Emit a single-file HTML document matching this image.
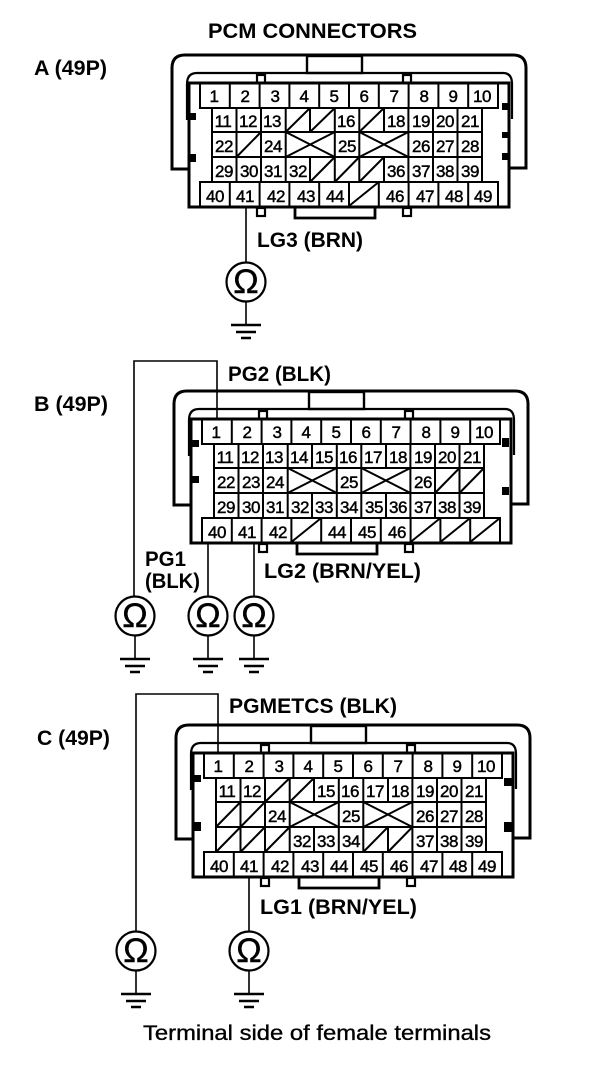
<!DOCTYPE html>
<html><head><meta charset="utf-8"><title>PCM Connectors</title>
<style>
html,body{margin:0;padding:0;background:#fff}
svg{display:block}
text{font-family:"Liberation Sans",sans-serif;fill:#000}
.n text{font-size:17px;letter-spacing:-.5px;text-anchor:middle;stroke:#000;stroke-width:.45}
.l{font-weight:bold;font-size:21px}
.o{font-size:34px;text-anchor:middle;stroke:#000;stroke-width:.4}
.s{fill:none;stroke:#000;stroke-width:2}
.w{fill:none;stroke:#000;stroke-width:1.6}
</style></head><body>
<svg width="608" height="1072" viewBox="0 0 608 1072" xmlns="http://www.w3.org/2000/svg">
<defs>
<g id="shell" fill="none" stroke="#000">
<path stroke-width="3" d="M189 169H172V68Q172 55 185 55H513Q526 55 526 68V168H509"/>
<rect x="307" y="56" width="55" height="17" stroke-width="2.4"/>
<path stroke-width="2.2" d="M187 120V84Q187 73 197 73H503Q512 73 512 84V119"/>
<rect x="257" y="75" width="8" height="8" stroke-width="2.2" fill="#fff"/>
<rect x="403" y="75" width="8" height="8" stroke-width="2.2" fill="#fff"/>
<rect x="257" y="208" width="8" height="8" stroke-width="2.2" fill="#fff"/>
<rect x="403" y="208" width="8" height="8" stroke-width="2.2" fill="#fff"/>
<path stroke-width="2.8" d="M295 207V218H375V207"/>
<rect x="189" y="83" width="320" height="124" stroke-width="3" fill="#fff"/>
<path stroke-width="2" d="M200 84V108H498V84M229.8 84V108M259.6 84V108M289.4 84V108M319.2 84V108M349 84V108M378.8 84V108M408.6 84V108M438.4 84V108M468.2 84V108"/>
<path stroke-width="2" d="M200 206V182H498V206M229.8 182V206M259.6 182V206M289.4 182V206M319.2 182V206M349 182V206M378.8 182V206M408.6 182V206M438.4 182V206M468.2 182V206"/>
<path stroke-width="2" d="M212 132H482M212 157H482M212 108V182M482 108V182M236.5 108V182M261 108V182M285.7 108V182M334.8 108V182M359.3 108V182M408.4 108V182M433 108V182M457.5 108V182M310 108V132M310 157V182M384 108V132M384 157V182"/>
<path stroke-width="2" d="M285.7 132L334.8 157M285.7 157L334.8 132M359.3 132L408.4 157M359.3 157L408.4 132"/>
</g>
<g id="gnd" fill="none" stroke="#000">
<circle cx="0" cy="0" r="19.5" stroke-width="2.2"/>
<path stroke-width="1.6" d="M0 20V43"/>
<path stroke-width="2.4" d="M-15 43H15M-10 50H10M-5 56H5"/>
</g>
</defs>
<rect width="608" height="1072" fill="#fff"/>

<text class="l" x="208" y="38" textLength="209" lengthAdjust="spacingAndGlyphs">PCM CONNECTORS</text>
<text class="l" x="34" y="75" textLength="73" lengthAdjust="spacingAndGlyphs">A (49P)</text>
<text class="l" x="34" y="411" textLength="74" lengthAdjust="spacingAndGlyphs">B (49P)</text>
<text class="l" x="37" y="745" textLength="73" lengthAdjust="spacingAndGlyphs">C (49P)</text>

<!-- Connector A -->
<g>
<use href="#shell"/>
<path d="M190 113h6v7h-6zM190 154h6v8h-6zM502 103h6v7h-6zM502 132h6v6h-6zM502 153h6v7h-6z"/>
<path class="s" d="M285.7 132L310 108M310 132L334.8 108M359.3 132L384 108M236.5 157L261 132M310 182L334.8 157M334.8 182L359.3 157M359.3 182L384 157M349 206L378.8 182"/>
<g class="n">
<text x="214" y="102">1</text><text x="245" y="102">2</text><text x="275" y="102">3</text><text x="304" y="102">4</text><text x="334" y="102">5</text><text x="364" y="102">6</text><text x="394" y="102">7</text><text x="424" y="102">8</text><text x="453" y="102">9</text><text x="482" y="102">10</text>
<text x="223" y="127">11</text><text x="248" y="127">12</text><text x="272" y="127">13</text><text x="346" y="127">16</text><text x="396" y="127">18</text><text x="421" y="127">19</text><text x="445" y="127">20</text><text x="470" y="127">21</text>
<text x="224" y="152">22</text><text x="273" y="152">24</text><text x="347" y="152">25</text><text x="421" y="152">26</text><text x="445" y="152">27</text><text x="470" y="152">28</text>
<text x="224" y="177">29</text><text x="249" y="177">30</text><text x="273" y="177">31</text><text x="298" y="177">32</text><text x="396" y="177">36</text><text x="421" y="177">37</text><text x="445" y="177">38</text><text x="470" y="177">39</text>
<text x="215" y="202">40</text><text x="245" y="202">41</text><text x="276" y="202">42</text><text x="306" y="202">43</text><text x="335" y="202">44</text><text x="395" y="202">46</text><text x="425" y="202">47</text><text x="454" y="202">48</text><text x="483" y="202">49</text>
</g>
</g>
<path class="w" d="M246 207V263"/>
<use href="#gnd" x="246" y="282"/>
<text class="o" x="246" y="293">Ω</text>
<text class="l" x="257" y="247" textLength="106" lengthAdjust="spacingAndGlyphs">LG3 (BRN)</text>

<!-- Connector B -->
<g transform="translate(2 336)">
<use href="#shell"/>
<path class="s" d="M433 157L457.5 132M457.5 157L482 132M289.4 206L319.2 182M408.6 206L438.4 182M438.4 206L468.2 182M468.2 206L498 182"/>
<g class="n">
<text x="214" y="102">1</text><text x="245" y="102">2</text><text x="275" y="102">3</text><text x="304" y="102">4</text><text x="334" y="102">5</text><text x="364" y="102">6</text><text x="394" y="102">7</text><text x="424" y="102">8</text><text x="453" y="102">9</text><text x="482" y="102">10</text>
<text x="223" y="127">11</text><text x="248" y="127">12</text><text x="272" y="127">13</text><text x="297" y="127">14</text><text x="322" y="127">15</text><text x="346" y="127">16</text><text x="371" y="127">17</text><text x="396" y="127">18</text><text x="421" y="127">19</text><text x="445" y="127">20</text><text x="470" y="127">21</text>
<text x="224" y="152">22</text><text x="249" y="152">23</text><text x="273" y="152">24</text><text x="347" y="152">25</text><text x="421" y="152">26</text>
<text x="224" y="177">29</text><text x="249" y="177">30</text><text x="273" y="177">31</text><text x="298" y="177">32</text><text x="322" y="177">33</text><text x="347" y="177">34</text><text x="372" y="177">35</text><text x="396" y="177">36</text><text x="421" y="177">37</text><text x="445" y="177">38</text><text x="470" y="177">39</text>
<text x="215" y="202">40</text><text x="245" y="202">41</text><text x="276" y="202">42</text><text x="335" y="202">44</text><text x="365" y="202">45</text><text x="395" y="202">46</text>
</g>
</g>
<path d="M192 440h7v7h-7zM192 476h7v7h-7zM502 438h7v9h-7zM502 487h7v8h-7z"/>
<path class="w" d="M217 419V361H134V597M208 542V597M254 542V597"/>
<use href="#gnd" x="135" y="616"/><text class="o" x="135" y="627">Ω</text>
<use href="#gnd" x="208" y="616"/><text class="o" x="208" y="627">Ω</text>
<use href="#gnd" x="254" y="616"/><text class="o" x="254" y="627">Ω</text>
<text class="l" x="228" y="381" textLength="103" lengthAdjust="spacingAndGlyphs">PG2 (BLK)</text>
<text class="l" x="145" y="566" textLength="41" lengthAdjust="spacingAndGlyphs">PG1</text>
<text class="l" x="145" y="588" textLength="55" lengthAdjust="spacingAndGlyphs">(BLK)</text>
<text class="l" x="264" y="578" textLength="157" lengthAdjust="spacingAndGlyphs">LG2 (BRN/YEL)</text>

<!-- Connector C -->
<g transform="translate(4 670)">
<use href="#shell"/>
<path class="s" d="M261 132L285.7 108M285.7 132L310 108M212 157L236.5 132M236.5 157L261 132M212 182L236.5 157M236.5 182L261 157M261 182L285.7 157M359.3 182L384 157M384 182L408.4 157"/>
<g class="n">
<text x="214" y="102">1</text><text x="245" y="102">2</text><text x="275" y="102">3</text><text x="304" y="102">4</text><text x="334" y="102">5</text><text x="364" y="102">6</text><text x="394" y="102">7</text><text x="424" y="102">8</text><text x="453" y="102">9</text><text x="482" y="102">10</text>
<text x="223" y="127">11</text><text x="248" y="127">12</text><text x="322" y="127">15</text><text x="346" y="127">16</text><text x="371" y="127">17</text><text x="396" y="127">18</text><text x="421" y="127">19</text><text x="445" y="127">20</text><text x="470" y="127">21</text>
<text x="273" y="152">24</text><text x="347" y="152">25</text><text x="421" y="152">26</text><text x="445" y="152">27</text><text x="470" y="152">28</text>
<text x="298" y="177">32</text><text x="322" y="177">33</text><text x="347" y="177">34</text><text x="421" y="177">37</text><text x="445" y="177">38</text><text x="470" y="177">39</text>
<text x="215" y="202">40</text><text x="245" y="202">41</text><text x="276" y="202">42</text><text x="306" y="202">43</text><text x="335" y="202">44</text><text x="365" y="202">45</text><text x="395" y="202">46</text><text x="425" y="202">47</text><text x="454" y="202">48</text><text x="483" y="202">49</text>
</g>
</g>
<path d="M193 775h8v7h-8zM193 822h8v9h-8zM504 778h8v8h-8zM504 822h8v10h-8z"/>
<path class="w" d="M218 753V694H136V932M249 877V932"/>
<use href="#gnd" x="136" y="951"/><text class="o" x="136" y="962">Ω</text>
<use href="#gnd" x="249" y="951"/><text class="o" x="249" y="962">Ω</text>
<text class="l" x="229" y="713" textLength="168" lengthAdjust="spacingAndGlyphs">PGMETCS (BLK)</text>
<text class="l" x="260" y="914" textLength="157" lengthAdjust="spacingAndGlyphs">LG1 (BRN/YEL)</text>

<text x="143" y="1040" font-size="21" textLength="348" lengthAdjust="spacingAndGlyphs" stroke="#000" stroke-width=".35">Terminal side of female terminals</text>
</svg>
</body></html>
